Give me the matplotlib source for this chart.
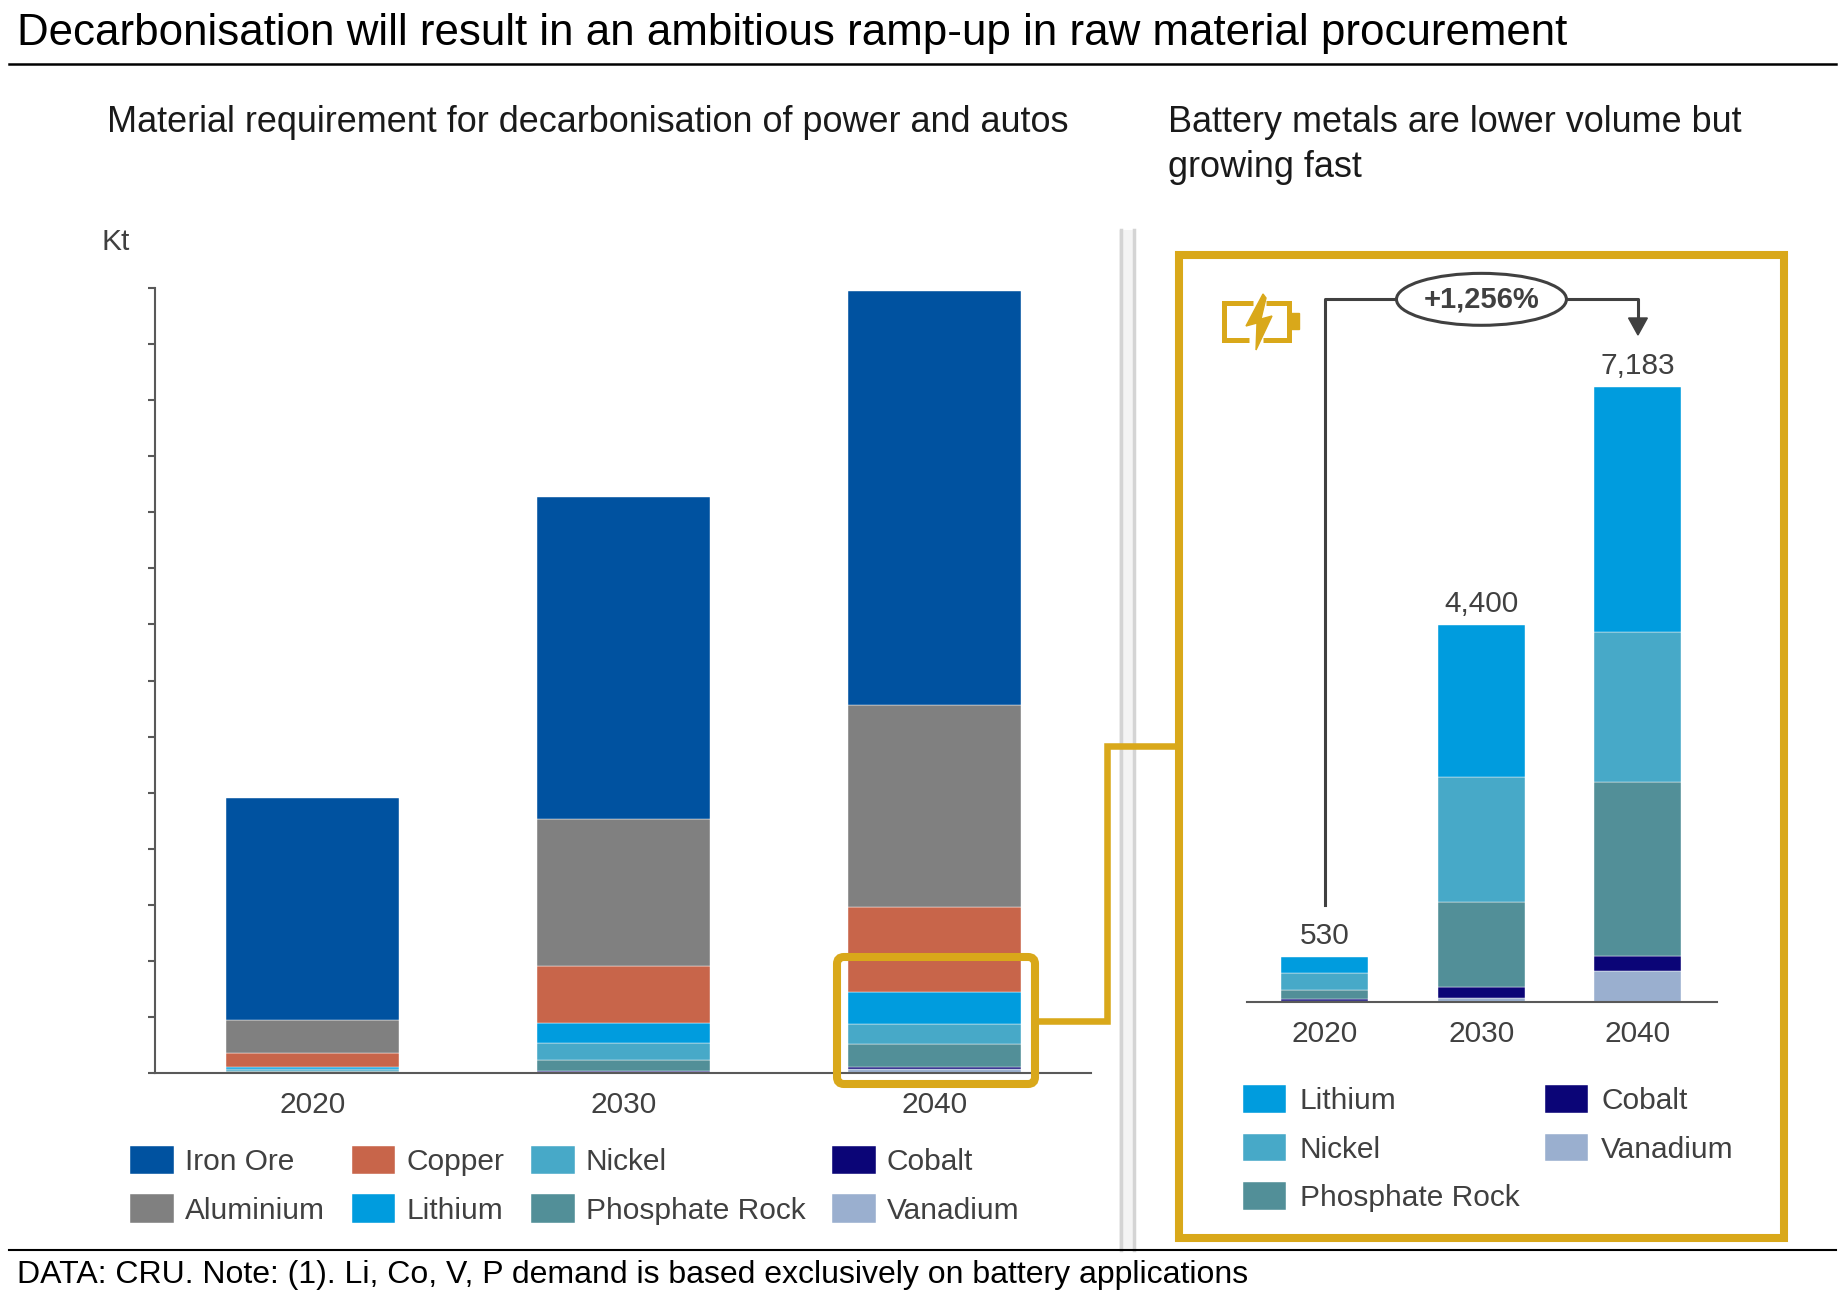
import numpy as np
import matplotlib.pyplot as plt
from matplotlib.patches import Rectangle, Ellipse, Polygon, FancyBboxPatch

plt.rcParams['font.family'] = ['Liberation Sans', 'DejaVu Sans']

# data (kt)
years = ['2020', '2030', '2040']
iron_ore = [19800, 28800, 36900]
aluminium = [3000, 13050, 18050]
copper = [1200, 5150, 7600]
lithium = [195, 1775, 2860]
nickel = [200, 1460, 1750]
phosphate = [100, 990, 2040]
cobalt = [25, 125, 175]
vanadium = [10, 50, 358]
battery_total = [530, 4400, 7183]
growth_label = '+1,256%'

# colours
c_iron = '#0052A0'
c_alu = '#808080'
c_cu = '#C8654A'
c_li = '#009CDE'
c_ni = '#47A9C8'
c_p = '#528F98'
c_co = '#0B0577'
c_v = '#9AAFCF'
gold = '#D9A81A'
grey_txt = '#404040'
axis_col = '#595959'

W, H = 1839, 1302
fig = plt.figure(figsize=(W / 100, H / 100), dpi=100)

x = np.arange(len(years))

# ---- left chart: all materials
ax1 = fig.add_axes([155 / W, 1 - 1072.7 / H, (1091 - 155) / W, (1072.7 - 288.3) / H])
left_series = [('Vanadium', vanadium, c_v), ('Cobalt', cobalt, c_co),
               ('Phosphate Rock', phosphate, c_p), ('Nickel', nickel, c_ni),
               ('Lithium', lithium, c_li), ('Copper', copper, c_cu),
               ('Aluminium', aluminium, c_alu), ('Iron Ore', iron_ore, c_iron)]
bottom = np.zeros(len(years))
left_bars = {}
for name, vals, col in left_series:
    left_bars[name] = ax1.bar(x, vals, 0.556, bottom=bottom, color=col,
                              edgecolor='white', linewidth=0.3)
    bottom += np.array(vals)

ax1.set_xlim(-0.506, 2.502)
ax1.set_ylim(0, 70000)
ax1.set_yticks(np.arange(0, 70001, 5000))
ax1.tick_params(axis='y', direction='out', length=5, width=1.5, color=axis_col, labelleft=False)
ax1.set_xticks(x)
ax1.set_xticklabels(years)
ax1.tick_params(axis='x', length=0, pad=13, labelsize=21.5, labelcolor=grey_txt)
for s in ['top', 'right']:
    ax1.spines[s].set_visible(False)
for s in ['left', 'bottom']:
    ax1.spines[s].set_color(axis_col)
    ax1.spines[s].set_linewidth(1.5)

left_order = ['Iron Ore', 'Aluminium', 'Copper', 'Lithium', 'Nickel', 'Phosphate Rock', 'Cobalt', 'Vanadium']
fig.legend([left_bars[n] for n in left_order], left_order, loc='upper left',
           bbox_to_anchor=(130 / W, 1 - 1145.5 / H), ncol=4, frameon=False,
           fontsize=21.5, handlelength=1.46, handleheight=1.09, handletextpad=0.37,
           columnspacing=0.9, labelspacing=0.62, borderpad=0, borderaxespad=0,
           labelcolor=grey_txt)

# ---- right chart: battery metals
ax2 = fig.add_axes([1247 / W, 1 - 1002 / H, 470 / W, (1002 - 290) / H])
right_series = left_series[:5]
bottom = np.zeros(len(years))
right_bars = {}
for name, vals, col in right_series:
    right_bars[name] = ax2.bar(x, vals, 0.556, bottom=bottom, color=col,
                               edgecolor='white', linewidth=0.3)
    bottom += np.array(vals)

for i, t in enumerate(battery_total):
    ax2.annotate(f'{t:,}', (i, t), xytext=(0, 9.4), textcoords='offset points',
                 ha='center', va='baseline', fontsize=21.5, color=grey_txt)

ax2.set_xlim(-0.498, 2.505)
ax2.set_ylim(0, 8320)
ax2.set_yticks([])
ax2.set_xticks(x)
ax2.set_xticklabels(years)
ax2.tick_params(axis='x', length=0, pad=13, labelsize=21.5, labelcolor=grey_txt)
for s in ['top', 'right', 'left']:
    ax2.spines[s].set_visible(False)
ax2.spines['bottom'].set_color(axis_col)
ax2.spines['bottom'].set_linewidth(1.5)

# growth bracket
y_br = 8211
ax2.plot([0, 0, 0.457], [1133, y_br, y_br], color=grey_txt, lw=2.2, clip_on=False)
ax2.plot([1.543, 2, 2], [y_br, y_br, 7990], color=grey_txt, lw=2.2, clip_on=False)
ax2.add_patch(Polygon([[1.94, 7993], [2.06, 7993], [2, 7794]], closed=True,
                      color=grey_txt, clip_on=False))
ax2.add_patch(Ellipse((1, y_br), 1.086, 607, facecolor='white', edgecolor=grey_txt,
                      lw=2.2, clip_on=False, zorder=3))
ax2.text(1, y_br, growth_label, ha='center', va='center', fontsize=21, fontweight='bold',
         color=grey_txt, zorder=4, clip_on=False)

right_order = ['Lithium', 'Nickel', 'Phosphate Rock', 'Cobalt', 'Vanadium']
fig.legend([right_bars[n] for n in right_order], right_order, loc='upper left',
           bbox_to_anchor=(1243.3 / W, 1 - 1085.2 / H), ncol=2, frameon=False,
           fontsize=21.5, handlelength=1.44, handleheight=1.04, handletextpad=0.45,
           columnspacing=0.85, labelspacing=0.62, borderpad=0, borderaxespad=0,
           labelcolor=grey_txt)

# ---- overlay for titles, frames and decorations (pixel coordinates)
ov = fig.add_axes([0, 0, 1, 1])
ov.set_xlim(0, W)
ov.set_ylim(H, 0)
ov.axis('off')

ov.text(17, 45, 'Decarbonisation will result in an ambitious ramp-up in raw material procurement',
        fontsize=31.6, color='black', va='baseline')
ov.plot([9, 1836], [63.7, 63.7], color='black', lw=1.8)
ov.text(107, 132, 'Material requirement for decarbonisation of power and autos',
        fontsize=25.9, color='#1a1a1a', va='baseline')
ov.text(1168, 132, 'Battery metals are lower volume but', fontsize=25.9, color='#1a1a1a', va='baseline')
ov.text(1168, 177, 'growing fast', fontsize=25.9, color='#1a1a1a', va='baseline')
ov.text(102, 250, 'Kt', fontsize=21.5, color=grey_txt, va='baseline')

# separator
ov.add_patch(Rectangle((1119, 230), 17, 1020, facecolor='#f4f4f4', edgecolor='none'))
ov.plot([1121, 1121], [230, 1250], color='#d4d4d4', lw=2.5)
ov.plot([1134, 1134], [230, 1250], color='#d4d4d4', lw=2.5)

# gold frames
ov.add_patch(Rectangle((1179.5, 254.5), 1784 - 1179.5, 1237.5 - 254.5, fill=False,
                       edgecolor=gold, lw=5.8, joinstyle='miter'))
ov.add_patch(FancyBboxPatch((841, 961), 190, 119, boxstyle='round,pad=4,rounding_size=7',
                            fill=False, edgecolor=gold, lw=5.8))
ov.plot([1035, 1107, 1107, 1179.5], [1020.7, 1020.7, 746, 746], color=gold, lw=4.7,
        solid_joinstyle='miter')

# battery icon
ov.plot([1253, 1224, 1224, 1249], [302.5, 302.5, 340, 340], color=gold, lw=3.6,
        solid_joinstyle='miter', solid_capstyle='butt')
ov.plot([1266, 1289, 1289, 1263], [302.5, 302.5, 340, 340], color=gold, lw=3.6,
        solid_joinstyle='miter', solid_capstyle='butt')
ov.add_patch(Rectangle((1289, 313), 10, 16, color=gold))
ov.add_patch(Polygon([[1263, 294], [1246, 326], [1257, 323], [1256, 350],
                      [1272, 316], [1261, 319], [1266, 298]], closed=True, color=gold))

# footer
ov.plot([9, 1836], [1250, 1250], color='black', lw=1.5)
ov.text(17, 1283, 'DATA: CRU. Note: (1). Li, Co, V, P demand is based exclusively on battery applications',
        fontsize=23, color='black', va='baseline')

fig.savefig('out.png', dpi=100)
